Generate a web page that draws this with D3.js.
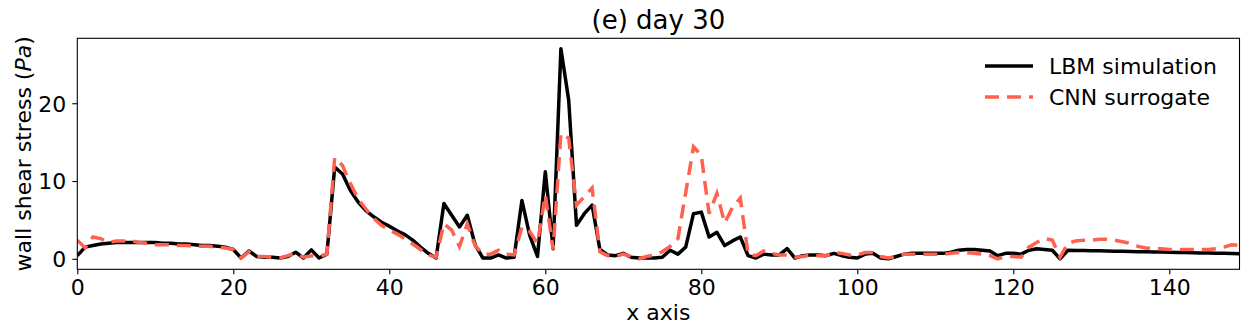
<!DOCTYPE html>
<html>
<head>
<meta charset="utf-8">
<script src="https://cdn.jsdelivr.net/npm/d3@7"></script>
<style>
  body { margin: 0; background: #fff; }
  svg { font-family: "DejaVu Sans", sans-serif; }
</style>
</head>
<body>
<script>
// wall shear stress along x, one value per x position (0..149)
var lbm = [
  0.4, 1.5, 1.7, 1.9, 2.0, 2.1, 2.1, 2.1, 2.1, 2.1,
  2.1, 2.0, 2.0, 1.9, 1.9, 1.8, 1.7, 1.7, 1.6, 1.5,
  1.2, 0.1, 1.0, 0.3, 0.2, 0.2, 0.1, 0.3, 0.85, 0.1,
  1.15, 0.1, 0.6, 11.8, 10.9, 8.8, 7.3, 6.2, 5.4, 4.7,
  4.2, 3.6, 3.1, 2.4, 1.5, 0.7, 0.1, 7.1, 5.6, 4.1,
  5.6, 1.8, 0.1, 0.1, 0.5, 0.1, 0.2, 7.5, 3.0, 0.3,
  11.2, 1.3, 27.0, 20.4, 4.3, 5.8, 6.9, 1.2, 0.5, 0.4,
  0.7, 0.2, 0.1, 0.1, 0.1, 0.2, 1.1, 0.6, 1.5, 5.8,
  6.0, 2.8, 3.4, 1.7, 2.3, 2.8, 0.4, 0.1, 0.6, 0.5,
  0.5, 1.3, 0.1, 0.4, 0.5, 0.5, 0.4, 0.7, 0.4, 0.2,
  0.1, 0.6, 0.7, 0.1, 0.0, 0.3, 0.6, 0.7, 0.7, 0.7,
  0.7, 0.7, 0.85, 1.1, 1.2, 1.2, 1.1, 1.0, 0.4, 0.7,
  0.7, 0.6, 1.1, 1.3, 1.2, 1.1, 0.0, 1.1, 1.08, 1.06,
  1.04, 1.02, 1.0, 0.98, 0.96, 0.94, 0.92, 0.9, 0.88, 0.86,
  0.84, 0.82, 0.8, 0.78, 0.76, 0.74, 0.72, 0.7, 0.68, 0.66
]

var cnn = [
  2.4, 1.4, 2.8, 2.6, 2.1, 2.3, 2.3, 2.3, 2.1, 2.0,
  1.8, 1.8, 1.8, 1.7, 1.7, 1.6, 1.6, 1.6, 1.5, 1.4,
  1.2, 0.1, 0.9, 0.3, 0.3, 0.2, 0.1, 0.4, 0.7, 0.2,
  0.4, 0.3, 0.6, 13.0, 12.0, 9.7, 7.7, 6.4, 5.2, 4.3,
  3.7, 3.2, 2.6, 1.9, 1.2, 0.5, 0.2, 4.5, 3.7, 1.6,
  4.5, 1.7, 0.6, 0.6, 1.1, 0.6, 0.5, 4.1, 3.5, 2.0,
  8.2, 1.2, 16.1, 15.5, 6.9, 8.0, 9.1, 0.9, 0.4, 0.3,
  0.6, 0.3, 0.0, 0.3, 0.5, 0.9, 1.6, 2.6, 8.5, 14.4,
  13.3, 5.8, 8.4, 4.6, 6.6, 7.8, 0.6, 0.4, 1.0, 0.7,
  0.5, 0.5, 0.2, 0.3, 0.5, 0.4, 0.4, 0.85, 0.7, 0.5,
  0.5, 0.8, 0.8, 0.3, 0.1, 0.3, 0.6, 0.6, 0.6, 0.6,
  0.6, 0.6, 0.7, 0.8, 0.8, 0.7, 0.6, 0.4, 0.0, 0.3,
  0.3, 0.2, 1.5, 2.1, 2.6, 2.4, 0.2, 2.0, 2.3, 2.4,
  2.4, 2.5, 2.5, 2.4, 2.2, 2.0, 1.6, 1.4, 1.3, 1.3,
  1.2, 1.2, 1.2, 1.2, 1.2, 1.2, 1.3, 1.5, 1.8, 1.7
]

var xTicks = [0, 20, 40, 60, 80, 100, 120, 140]
var yTicks = [0, 10, 20]
var seriesNames = ["LBM simulation", "CNN surrogate"]

var W = 1249, H = 334
var plotL = 77.3, plotR = 1239.5, plotT = 38.3, plotB = 269.3
var red = "#ff6150"

var svg = d3.select("body").append("svg")
  .attr("width", W)
  .attr("height", H)

var x = d3.scaleLinear().domain([0, lbm.length - 1]).range([plotL, plotR])
var y = d3.scaleLinear().domain([-1.35, 28.35]).range([plotB, plotT])

svg.append("clipPath").attr("id", "plotclip")
  .append("rect")
  .attr("x", plotL).attr("y", plotT)
  .attr("width", plotR - plotL).attr("height", plotB - plotT)

var line = d3.line()
  .x((d, i) => x(i))
  .y(d => y(d))

var plot = svg.append("g").attr("clip-path", "url(#plotclip)")

plot.append("path")
  .datum(lbm)
  .attr("d", line)
  .attr("fill", "none")
  .attr("stroke", "#000")
  .attr("stroke-width", 3.5)
  .attr("stroke-linejoin", "round")

plot.append("path")
  .datum(cnn)
  .attr("d", line)
  .attr("fill", "none")
  .attr("stroke", red)
  .attr("stroke-width", 3.5)
  .attr("stroke-dasharray", "14,8")

// axes
var xAxis = svg.append("g")
  .attr("transform", "translate(0," + plotB + ")")
  .call(d3.axisBottom(x).tickValues(xTicks).tickSize(5).tickPadding(5).tickFormat(d3.format("d")))
var yAxis = svg.append("g")
  .attr("transform", "translate(" + plotL + ",0)")
  .call(d3.axisLeft(y).tickValues(yTicks).tickSize(5).tickPadding(6).tickFormat(d3.format("d")))

svg.selectAll(".domain").remove()
svg.selectAll(".tick line").attr("stroke", "#000").attr("stroke-width", 1.1)
svg.selectAll(".tick text")
  .attr("fill", "#000")
  .style("font-size", "22px")
  .style("font-family", "DejaVu Sans")
yAxis.selectAll(".tick text").attr("dy", "0.36em")

// frame
svg.append("rect")
  .attr("x", plotL).attr("y", plotT)
  .attr("width", plotR - plotL).attr("height", plotB - plotT)
  .attr("fill", "none")
  .attr("stroke", "#000")
  .attr("stroke-width", 1.1)

// labels
svg.append("text")
  .attr("x", (plotL + plotR) / 2).attr("y", 29)
  .attr("text-anchor", "middle")
  .style("font-size", "26px")
  .text("(e) day 30")

svg.append("text")
  .attr("x", (plotL + plotR) / 2).attr("y", 320)
  .attr("text-anchor", "middle")
  .style("font-size", "22px")
  .text("x axis")

var yl = svg.append("text")
  .attr("transform", "translate(31," + (plotT + plotB) / 2 + ") rotate(-90)")
  .attr("text-anchor", "middle")
  .style("font-size", "22px")
yl.append("tspan").text("wall shear stress (")
yl.append("tspan").style("font-style", "italic").text("Pa")
yl.append("tspan").text(")")

// legend
var legend = svg.append("g")
var legendRows = [
  {name: seriesNames[0], color: "#000", dash: null, y: 66},
  {name: seriesNames[1], color: red, dash: "14,8", y: 97}
]
legendRows.forEach(function(r) {
  legend.append("line")
    .attr("x1", 985).attr("x2", 1033)
    .attr("y1", r.y).attr("y2", r.y)
    .attr("stroke", r.color)
    .attr("stroke-width", 3.5)
    .attr("stroke-dasharray", r.dash)
  legend.append("text")
    .attr("x", 1049).attr("y", r.y + 8)
    .style("font-size", "22px")
    .text(r.name)
})
</script>
</body>
</html>
